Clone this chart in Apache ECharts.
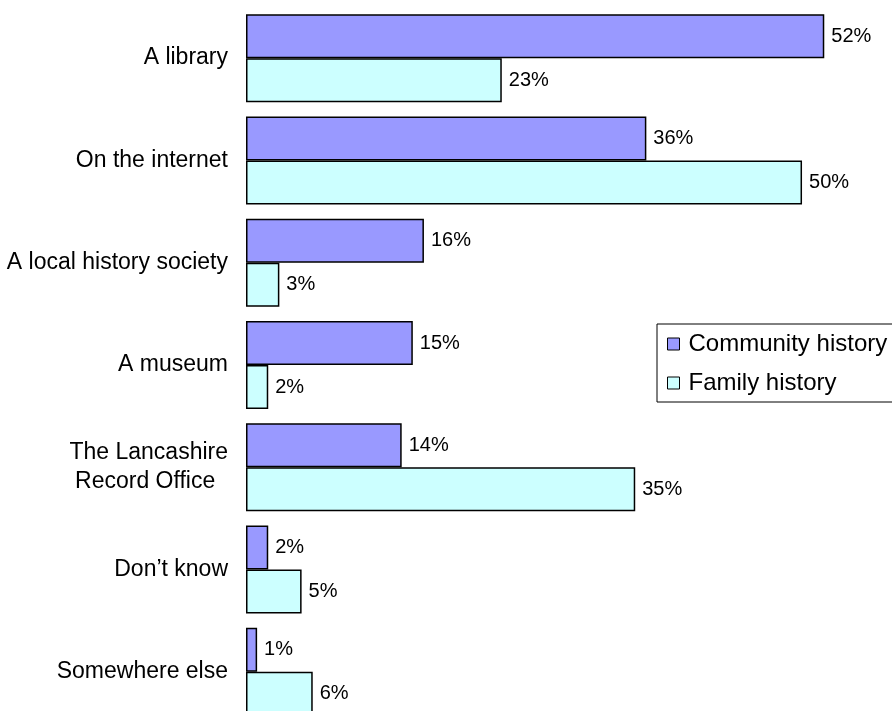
<!DOCTYPE html>
<html>
<head>
<meta charset="utf-8">
<script src="https://cdn.jsdelivr.net/npm/echarts@6/dist/echarts.min.js"></script>
<style>
  html, body { margin: 0; padding: 0; background: #fff; }
  #main { width: 892px; height: 711px; }
</style>
</head>
<body>
<div id="main"></div>
<script>
let categories = ['A library', 'On the internet', 'A local history society', 'A museum',
    'The Lancashire\nRecord Office  ', 'Don\u2019t know', 'Somewhere else'];
let seriesNames = ['Community history', 'Family history'];
let community = [52, 36, 16, 15, 14, 2, 1];
let family = [23, 50, 3, 2, 35, 5, 6];

let font = '"Liberation Sans", Arial, sans-serif';

function barSeries(name, data, color){
    return {
        type: 'bar',
        name: name,
        data: data,
        barGap: '0%',
        barCategoryGap: '14%',
        itemStyle: {color: color, borderColor: '#000', borderWidth: 1.5},
        label: {
            show: true,
            position: 'right',
            distance: 7,
            formatter: '{c}%',
            fontFamily: font,
            fontSize: 20,
            color: '#000'
        }
    };
}

let option = {
    animation: false,
    backgroundColor: '#fff',
    grid: {left: 246, top: 7, width: 645, height: 716, outerBoundsMode: 'none'},
    xAxis: {
        type: 'value',
        min: 0,
        max: 58,
        show: false
    },
    yAxis: {
        type: 'category',
        inverse: true,
        data: categories,
        axisLine: {show: false},
        axisTick: {show: false},
        axisLabel: {
            fontFamily: font,
            fontSize: 23,
            lineHeight: 29,
            color: '#000',
            margin: 18
        }
    },
    legend: {
        orient: 'vertical',
        left: 657,
        top: 324,
        padding: [8, 30, 7, 10],
        itemGap: 15,
        itemWidth: 12,
        itemHeight: 12,
        icon: 'rect',
        borderColor: '#000',
        borderWidth: 1,
        backgroundColor: '#fff',
        itemStyle: {borderColor: '#000', borderWidth: 1},
        textStyle: {fontFamily: font, fontSize: 24, lineHeight: 24, color: '#000', padding: [0, 0, 0, 4]},
        data: seriesNames
    },
    series: [
        barSeries(seriesNames[0], community, '#9999FF'),
        barSeries(seriesNames[1], family, '#CCFFFF')
    ]
};

let chart = echarts.init(document.getElementById('main'));
chart.setOption(option);
</script>
</body>
</html>
